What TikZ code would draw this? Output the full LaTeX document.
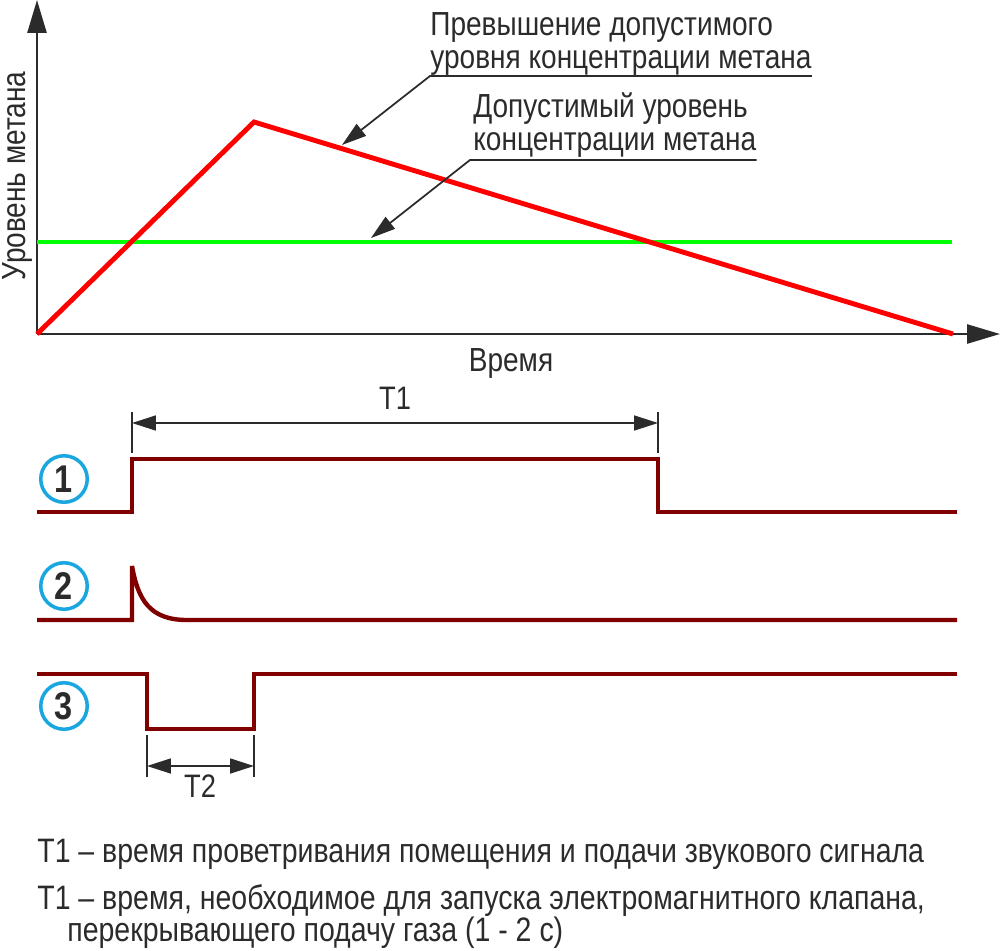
\documentclass[tikz,border=0pt]{standalone}
\usepackage{fontspec}
\setmainfont{Liberation Sans}[FakeStretch=0.84]
\usepackage{xcolor}
\usetikzlibrary{arrows.meta, calc}

\definecolor{inkgray}{HTML}{2B2B2B}
\definecolor{sigred}{HTML}{800000}
\definecolor{ringblue}{HTML}{1AA7E0}

\tikzset{
    axis/.style={draw=inkgray, line width=1.4pt, -{Triangle[length=18.7pt, width=10.8pt]}},
    leader/.style={draw=inkgray, line width=1pt, -{Triangle[length=14pt, width=8.5pt]}},
    dimline/.style={draw=inkgray, line width=1pt,
        {Triangle[length=13.6pt, width=8.5pt]}-{Triangle[length=13.6pt, width=8.5pt]}},
    extline/.style={draw=inkgray, line width=0.8pt},
    signal/.style={draw=sigred, line width=2.5pt},
    lbl/.style={inner sep=0pt, text=inkgray, font=\fontsize{19}{19}\selectfont},
    dimlbl/.style={lbl, font=\fontsize{18.5}{18.5}\selectfont},
    note/.style={lbl, font=\fontsize{19.3}{19.3}\selectfont},
    ring/.style={circle, draw=ringblue, line width=2pt, minimum size=0.93cm, inner sep=0pt,
        text=inkgray, font=\fontsize{22}{22}\selectfont\bfseries}
}

\begin{document}
\begin{tikzpicture}[x=0.02cm, y=-0.02cm]
    \useasboundingbox (0,0) rectangle (1000,950);

    % axes
    \coordinate (O) at (37,334);
    \draw[axis] (O) -- (37,0);
    \draw[axis] (O) -- (1000,334);
    \node[lbl, rotate=90, anchor=base] (ylab) at (26,176) {Уровень метана};
    \node[lbl, anchor=base] (xlab) at (511,371) {Время};

    % methane level and limit
    \coordinate (peak) at (254,122);
    \coordinate (zero) at (953,334);
    \draw[green, line width=2.8pt] (37,242) -- (952,242);
    \draw[red, line width=2.8pt] (O) -- (peak) -- (zero);

    \node[lbl, anchor=base west] (exc1) at (430,35) {Превышение допустимого};
    \node[lbl, anchor=base west] (exc2) at (430,68) {уровня концентрации метана};
    \coordinate (u1) at (430,76);
    \coordinate (tip1) at (342,145);
    \draw[leader] (u1 -| exc2.east) -- (u1) -- (tip1);

    \node[lbl, anchor=base west] (lim1) at (473,117) {Допустимый уровень};
    \node[lbl, anchor=base west] (lim2) at (473,150) {концентрации метана};
    \coordinate (u2) at (470,160);
    \coordinate (tip2) at (371,238);
    \draw[leader] (u2 -| lim2.east) -- (u2) -- (tip2);

    % T1
    \coordinate (a1) at (132,423);
    \coordinate (b1) at (658,423);
    \draw[extline] ($(a1)+(0,-11)$) -- ($(a1)+(0,30)$);
    \draw[extline] ($(b1)+(0,-11)$) -- ($(b1)+(0,30)$);
    \draw[dimline] (a1) -- (b1);
    \node[dimlbl, anchor=base] (t1) at (395,409) {T1};

    % signals
    \draw[signal] (37,512) -- (132,512) -- (132,459) -- (658,459) -- (658,512) -- (957,512);
    \draw[signal] (37,620) -- (132,620) -- (132,566) .. controls (138,600) and (150,620) .. (187,620) -- (957,620);
    \draw[signal] (37,674) -- (147,674) -- (147,729) -- (254,729) -- (254,674) -- (957,674);

    \foreach \n/\y in {1/479, 2/586, 3/706}
        \node[ring] (c\n) at (64,\y) {\n};

    % T2
    \coordinate (a2) at (147,766);
    \coordinate (b2) at (254,766);
    \draw[extline] ($(a2)+(0,-31)$) -- ($(a2)+(0,11)$);
    \draw[extline] ($(b2)+(0,-31)$) -- ($(b2)+(0,11)$);
    \draw[dimline] (a2) -- (b2);
    \node[dimlbl, anchor=base] (t2) at (200,797) {T2};

    % notes
    \node[note, anchor=base west] (n1) at (37,862) {T1 – время проветривания помещения и подачи звукового сигнала};
    \node[note, anchor=base west] (n2) at (37,909) {T1 – время, необходимое для запуска электромагнитного клапана,};
    \node[note, anchor=base west] (n3) at (67,941) {перекрывающего подачу газа (1 - 2 с)};
\end{tikzpicture}
\end{document}
